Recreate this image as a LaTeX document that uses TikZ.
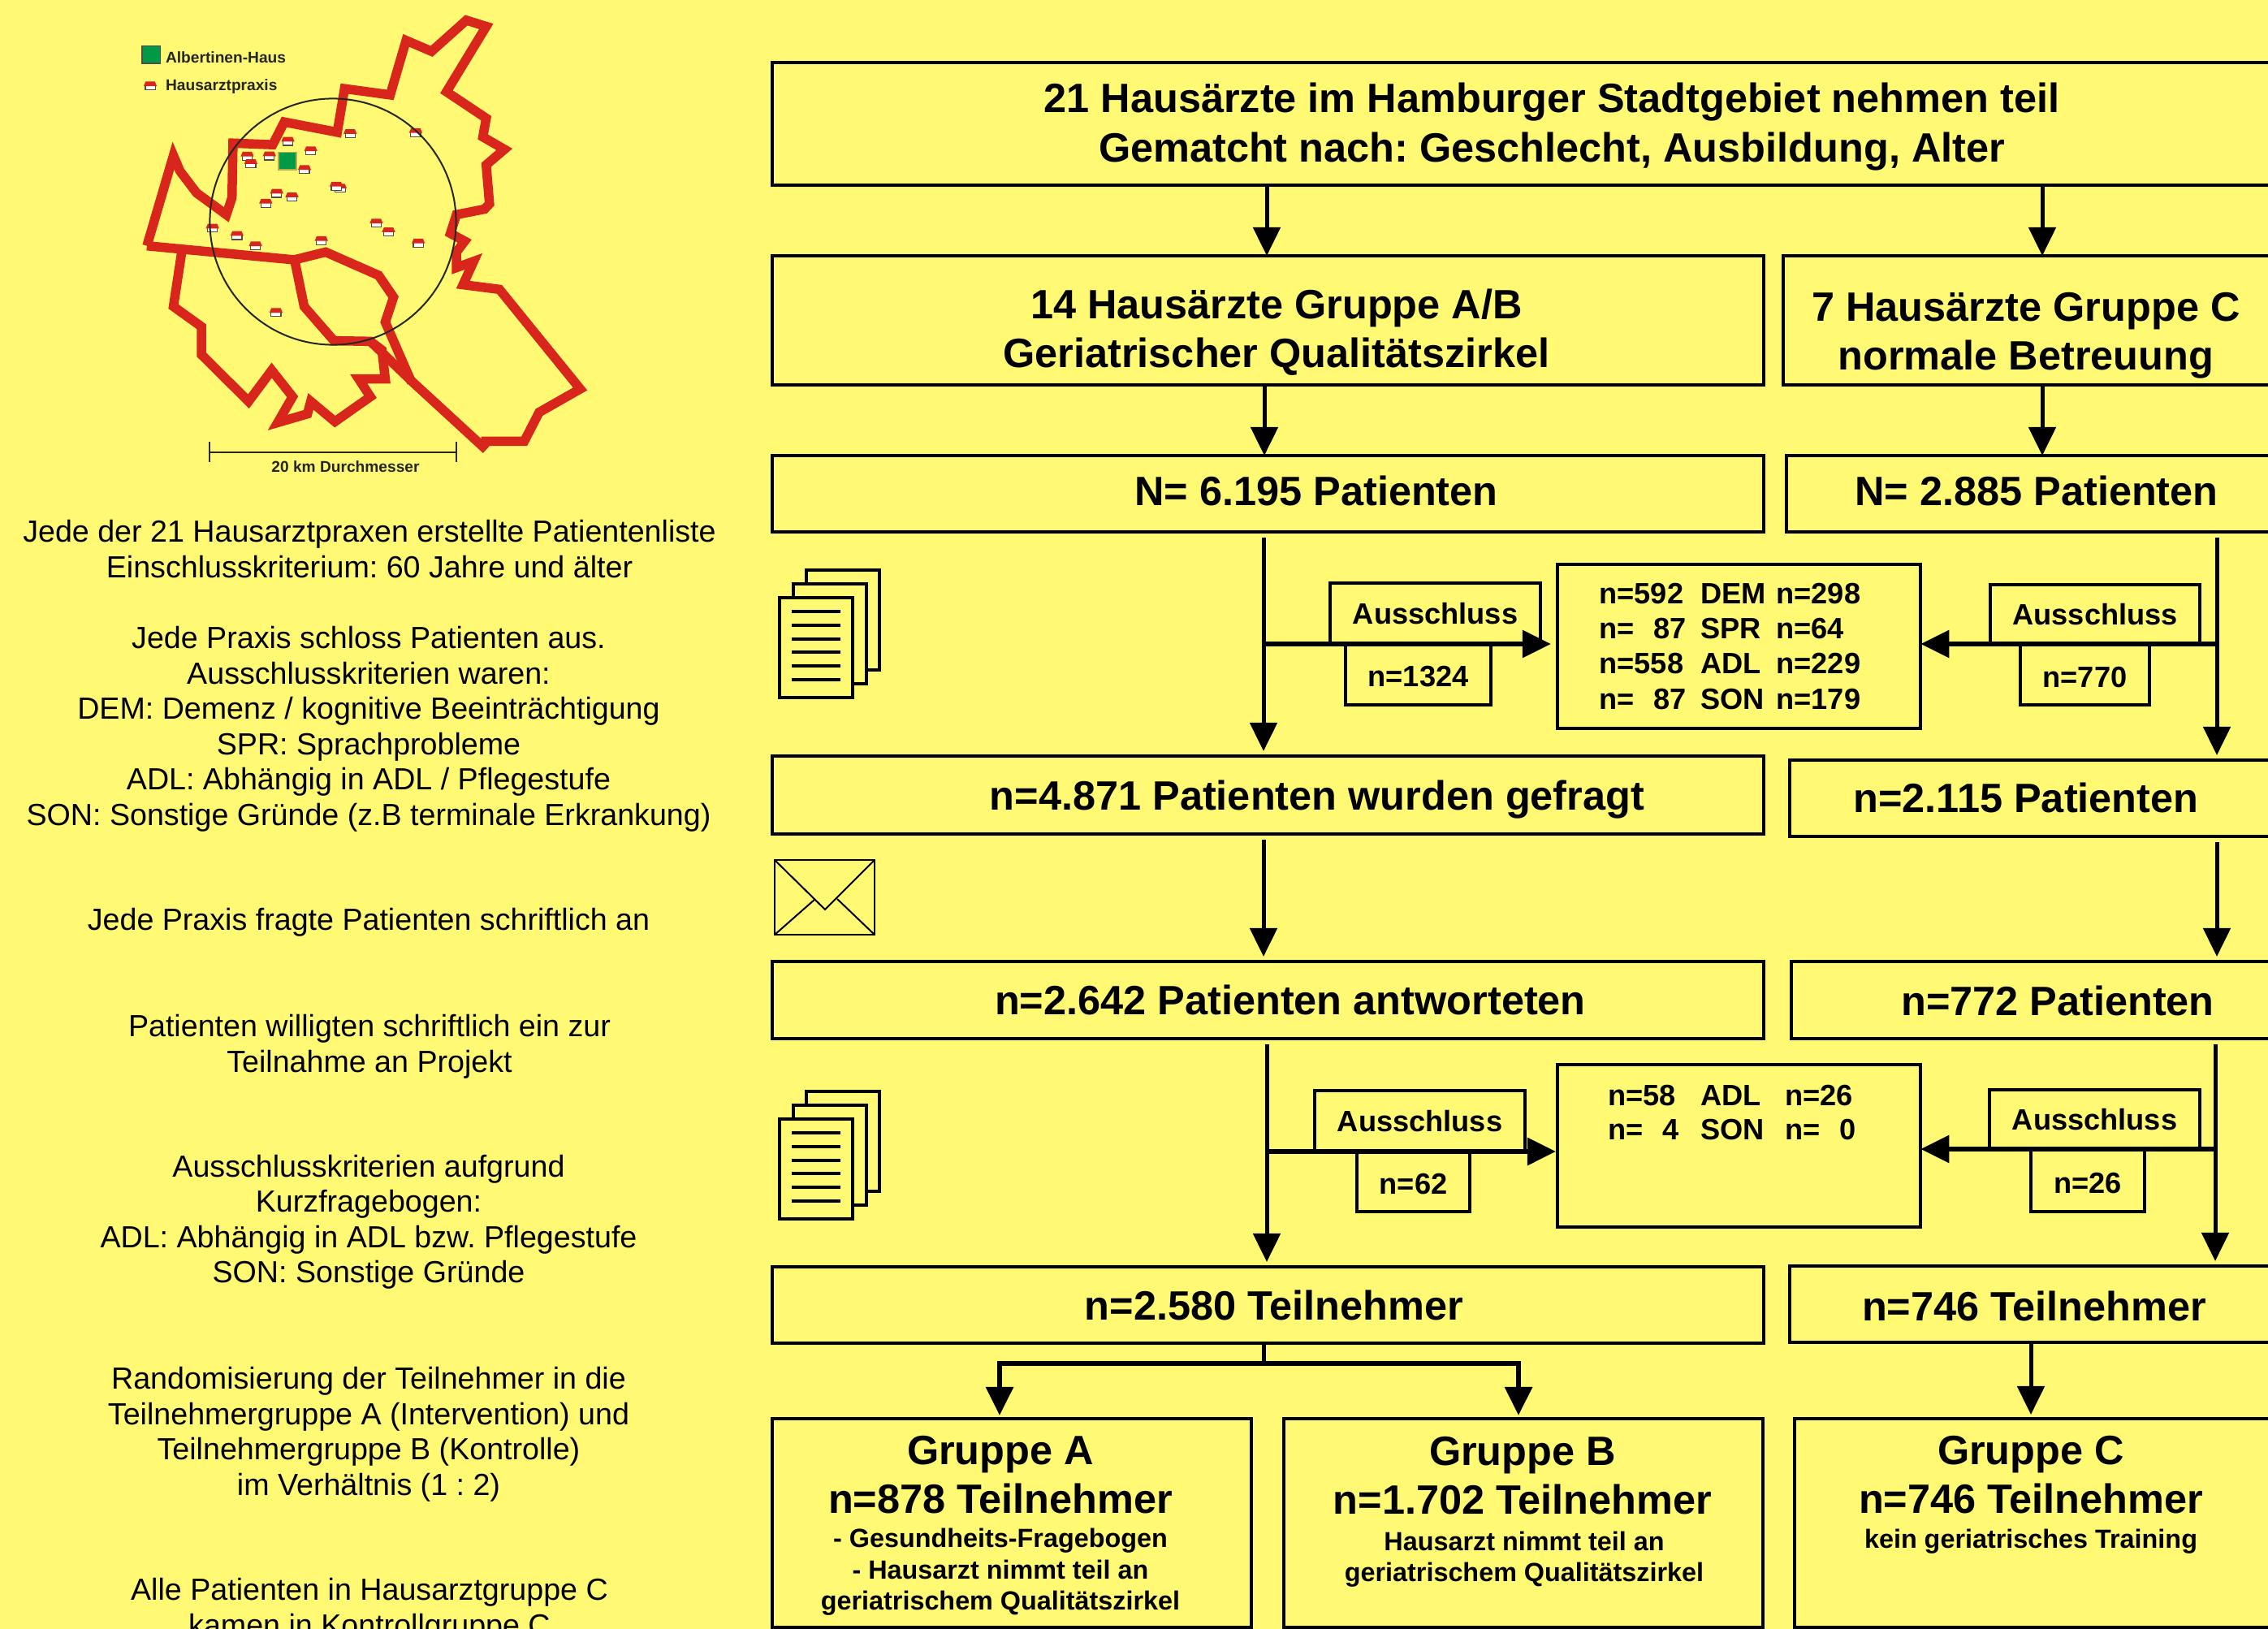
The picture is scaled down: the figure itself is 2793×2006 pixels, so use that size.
\documentclass[tikz,border=0pt]{standalone}
\usepackage{fontspec}
\setmainfont{Liberation Sans}
\usetikzlibrary{matrix,positioning,arrows.meta,calc}
\definecolor{poster}{HTML}{FFF974}
\definecolor{maproute}{HTML}{D9261C}
\definecolor{mapgreen}{HTML}{009A46}
\tikzset{
  flowbox/.style={draw=black,line width=0.04cm,inner sep=0pt,outer sep=0pt,anchor=north west},
  bigtext/.style={font=\frenchspacing\fontsize{14.35}{17.2}\selectfont\bfseries,align=center,inner sep=0pt},
  midtext/.style={font=\fontsize{10.3}{12.2}\selectfont\bfseries,align=center,inner sep=0pt},
  numtext/.style={midtext,text height=8.9pt},
  smalltext/.style={font=\fontsize{9.2}{10.9}\selectfont\bfseries,align=center,inner sep=0pt},
  sidetext/.style={font=\frenchspacing\fontsize{10.7}{12.37}\selectfont,align=center,inner sep=0pt},
  maptext/.style={font=\fontsize{5.45}{6.5}\selectfont\bfseries,text=black!85,inner sep=0pt},
  maproad/.style={maproute,line width=0.115cm,miter limit=6},
  flowarrow/.style={line width=0.05cm,-{Triangle[length=0.35cm,width=0.33cm]}},
  sidearrow/.style={flowarrow,line width=0.06cm},
  gaparrow/.style={flowarrow,shorten <=0.07cm,shorten >=0.06cm},
  praxis/.pic={
    \draw[fill=white,draw=black!70,line width=0.012cm] (-15,-2) rectangle (15,14);
    \fill[maproute] (-14,-13) -- (14,-13) -- (20,2) -- (-20,2) -- cycle;
  },
  paperstack/.pic={
    \foreach \dx/\dy in {33/-34,17/-17,0/0}
      \draw[fill=poster,line width=0.04cm] (\dx,\dy) rectangle ++(90,123);
    \foreach \ly in {17,34,51,67,84,101}
      \draw[line width=0.04cm] (15,\ly) -- ++(60,0);
  },
}
\begin{document}
\begin{tikzpicture}[x=0.01cm,y=-0.01cm]
  \useasboundingbox (0,0) rectangle (2793,2006);
  \fill[poster] (0,0) rectangle (2793,2006);
  \clip (0,0) rectangle (2793,2006);

  % map
  \begin{scope}[shift={(130,0)},x=0.00408cm,y=-0.003827cm]
    \draw[maproad]
      (125,790) -- (205,500) -- (225,550) -- (275,620) -- (365,690) -- (382,635) -- (385,460) -- (505,465)
      -- (540,392) -- (700,425) -- (722,285) -- (860,305) -- (908,130) -- (985,165) -- (1090,65) -- (1150,85)
      -- (1030,295) -- (1150,380) -- (1140,440) -- (1205,480) -- (1150,530) -- (1160,655) -- (1145,672)
      -- (1060,690) -- (1042,750) -- (1085,775) -- (1060,810) -- (1060,860) -- (1112,840) -- (1080,915)
      -- (1190,930) -- (1434,1250) -- (1310,1325) -- (1265,1418) -- (1135,1418);
    \draw[maproad]
      (1150,1445) -- (930,1230) -- (800,1097) -- (690,1095) -- (600,985) -- (572,840);
    \draw[maproad]
      (125,790) -- (570,835) -- (665,810) -- (825,885) -- (870,955) -- (845,1035) -- (925,1230);
    \draw[maproad]
      (230,810) -- (205,985) -- (290,1050) -- (290,1140) -- (432,1290) -- (502,1190) -- (565,1275) -- (520,1358)
      -- (610,1330) -- (620,1290) -- (693,1355) -- (800,1275) -- (765,1218) -- (845,1218) -- (835,1125) -- (800,1097);
    \foreach \hx/\hy in {739/428,937/425,551/453,620/484,428/501,495/500,439/525,601/544,709/604,697/597,
      517/620,563/632,484/652,323/732,397/756,453/789,652/772,818/716,855/744,945/780,515/1003,135/275}
      \pic at (\hx,\hy) {praxis};
    \draw[fill=mapgreen,draw=black!70,line width=0.015cm] (111,148) rectangle (165,204);
    \draw[fill=mapgreen,draw=black!30!poster,line width=0.015cm] (523,489) rectangle (577,546);
    \node[maptext,anchor=west] (lgdhaus) at (180,185) {Albertinen-Haus};
    \node[maptext,anchor=west] (lgdpraxis) at (180,277) {Hausarztpraxis};
    \coordinate (barL) at (314,1453);
    \coordinate (barR) at (1060,1453);
    \draw[line width=0.02cm,black!85] (barL) -- (barR);
    \draw[line width=0.02cm,black!85] ($(barL)+(0,-33)$) -- ($(barL)+(0,33)$);
    \draw[line width=0.02cm,black!85] ($(barR)+(0,-33)$) -- ($(barR)+(0,33)$);
    \node[maptext] (barlabel) at (725,1500) {20 km Durchmesser};
  \end{scope}
  \draw[line width=0.02cm,black!85] (410,273) circle (1.515cm);

  % left column
  \node[sidetext] (txtliste) at (455,676) {Jede der 21 Hausarztpraxen erstellte Patientenliste\\Einschlusskriterium: 60 Jahre und älter};
  \node[sidetext] (txtaus) at (454,898) {Jede Praxis schloss Patienten aus.\\Ausschlusskriterien waren:\\DEM: Demenz / kognitive Beeinträchtigung\\SPR: Sprachprobleme\\ADL: Abhängig in ADL / Pflegestufe\\SON: Sonstige Gründe (z.B terminale Erkrankung)};
  \node[sidetext] (txtfrage) at (454,1136) {Jede Praxis fragte Patienten schriftlich an};
  \node[sidetext] (txtein) at (455,1289) {Patienten willigten schriftlich ein zur\\Teilnahme an Projekt};
  \node[sidetext] (txtkurz) at (454,1505) {Ausschlusskriterien aufgrund\\Kurzfragebogen:\\ADL: Abhängig in ADL bzw. Pflegestufe\\SON: Sonstige Gründe};
  \node[sidetext] (txtrand) at (454,1766) {Randomisierung der Teilnehmer in die\\Teilnehmergruppe A (Intervention) und\\Teilnehmergruppe B (Kontrolle)\\im Verhältnis (1 : 2)};
  \node[sidetext] (txtalle) at (455,1983) {Alle Patienten in Hausarztgruppe C\\kamen in Kontrollgruppe C};

  % boxes
  \node[flowbox,minimum width=19.2cm,minimum height=1.51cm] (top) at (951,77) {};
  \node[flowbox,minimum width=12.2cm,minimum height=1.59cm] (grpab) at (951,315) {};
  \node[flowbox,minimum width=7cm,minimum height=1.59cm] (grpc) at (2196,315) {};
  \node[flowbox,minimum width=12.2cm,minimum height=0.94cm] (patA) at (951,561) {};
  \node[flowbox,minimum width=7cm,minimum height=0.94cm] (patC) at (2200,561) {};
  \node[flowbox,minimum width=12.2cm,minimum height=0.96cm] (askA) at (951,931) {};
  \node[flowbox,minimum width=7cm,minimum height=0.94cm] (askC) at (2204,936) {};
  \node[flowbox,minimum width=12.2cm,minimum height=0.95cm] (ansA) at (951,1184) {};
  \node[flowbox,minimum width=7cm,minimum height=0.95cm] (ansC) at (2206,1184) {};
  \node[flowbox,minimum width=12.2cm,minimum height=0.94cm] (telA) at (951,1560) {};
  \node[flowbox,minimum width=7cm,minimum height=0.94cm] (telC) at (2204,1559) {};
  \node[flowbox,minimum width=5.9cm,minimum height=2.57cm] (endA) at (951,1747) {};
  \node[flowbox,minimum width=5.9cm,minimum height=2.57cm] (endB) at (1581,1747) {};
  \node[flowbox,minimum width=7cm,minimum height=2.57cm] (endC) at (2210,1747) {};

  % box texts
  \node[bigtext] (ttop) at (1911,156) {21 Hausärzte im Hamburger Stadtgebiet nehmen teil\\Gematcht nach: Geschlecht, Ausbildung, Alter};
  \node[bigtext] (tgrpab) at (1572,409) {14 Hausärzte Gruppe A/B\\Geriatrischer Qualitätszirkel};
  \node[bigtext] (tgrpc) at (2495,413) {7 Hausärzte Gruppe C\\normale Betreuung};
  \node[bigtext] (tpatA) at (1621,604) {N= 6.195 Patienten};
  \node[bigtext] (tpatC) at (2508,604) {N= 2.885 Patienten};
  \node[bigtext] (taskA) at (1622,985) {n=4.871 Patienten wurden gefragt};
  \node[bigtext] (taskC) at (2495,982) {n=2.115 Patienten};
  \node[bigtext] (tansA) at (1589,1231) {n=2.642 Patienten antworteten};
  \node[bigtext] (tansC) at (2534,1232) {n=772 Patienten};
  \node[bigtext] (ttelA) at (1569,1607) {n=2.580 Teilnehmer};
  \node[bigtext] (ttelC) at (2505,1608) {n=746 Teilnehmer};
  \node[bigtext] (tendA) at (1232,1816) {Gruppe A\\n=878 Teilnehmer};
  \node[smalltext] (dendA) at (1232,1936) {- Gesundheits-Fragebogen\\- Hausarzt nimmt teil an\\geriatrischem Qualitätszirkel};
  \node[bigtext] (tendB) at (1875,1817) {Gruppe B\\n=1.702 Teilnehmer};
  \node[smalltext] (dendB) at (1877,1920) {Hausarzt nimmt teil an\\geriatrischem Qualitätszirkel};
  \node[bigtext] (tendC) at (2501,1816) {Gruppe C\\n=746 Teilnehmer};
  \node[smalltext] (dendC) at (2501,1898) {kein geriatrisches Training};

  % exclusion boxes
  \node[flowbox,midtext,minimum width=2.59cm,minimum height=0.75cm] (ausA) at (1638,718) {Ausschluss};
  \node[flowbox,numtext,minimum width=1.79cm,minimum height=0.75cm] (numA) at (1657,793) {n=1324};
  \node[flowbox,minimum width=4.47cm,minimum height=2.02cm] (excl) at (1918,695) {};
  \node[flowbox,midtext,minimum width=2.58cm,minimum height=0.73cm] (ausC) at (2451,720) {Ausschluss};
  \node[flowbox,numtext,minimum width=1.59cm,minimum height=0.75cm] (numC) at (2488,793) {n=770};
  \node[flowbox,midtext,minimum width=2.59cm,minimum height=0.75cm] (ausAb) at (1619,1343) {Ausschluss};
  \node[flowbox,numtext,minimum width=1.39cm,minimum height=0.74cm] (numAb) at (1671,1418) {n=62};
  \node[flowbox,minimum width=4.47cm,minimum height=2cm] (exclb) at (1918,1311) {};
  \node[flowbox,midtext,minimum width=2.59cm,minimum height=0.74cm] (ausCb) at (2450,1342) {Ausschluss};
  \node[flowbox,numtext,minimum width=1.4cm,minimum height=0.76cm] (numCb) at (2501,1416) {n=26};

  \matrix(reasons) [matrix of nodes, anchor=west, row sep=0pt, column sep=0pt,
    nodes={font=\fontsize{10.3}{12.2}\selectfont\bfseries,inner sep=0pt,minimum height=0.43cm,anchor=west},
    column 1/.style={nodes={text width=1.25cm}}, column 2/.style={nodes={text width=0.93cm}}, column 3/.style={nodes={text width=1.2cm}}]
    at (1957,796) {
    n=592 & DEM & n=298 \\
    n=\ \ 87 & SPR & n=64 \\
    n=558 & ADL & n=229 \\
    n=\ \ 87 & SON & n=179 \\
  };
  \matrix(reasonsb) [matrix of nodes, anchor=west, row sep=0pt, column sep=0pt,
    nodes={font=\fontsize{10.3}{12.2}\selectfont\bfseries,inner sep=0pt,minimum height=0.42cm,anchor=west},
    column 1/.style={nodes={text width=1.14cm}}, column 2/.style={nodes={text width=1.04cm}}, column 3/.style={nodes={text width=1.2cm}}]
    at (1968,1370) {
    n=58 & ADL & n=26 \\
    n=\ \ 4 & SON & n=\ \ 0 \\
  };

  % paper stacks and envelope
  \pic at (960,736) {paperstack};
  \pic at (960,1378) {paperstack};
  \draw[line width=0.025cm] (954,1059) rectangle (1077,1151);
  \draw[line width=0.02cm] (954,1059) -- (1016,1120) -- (1077,1059);
  \draw[line width=0.02cm] (954,1151) -- (1004,1107);
  \draw[line width=0.02cm] (1077,1151) -- (1031,1107);

  % connectors
  \coordinate (colTA) at (1560,0);
  \coordinate (colTC) at (2515,0);
  \coordinate (colNA) at (1557,0);
  \coordinate (colQA) at (1556,0);
  \coordinate (colRA) at (1560,0);
  \coordinate (colQC) at (2730,0);
  \coordinate (colRC) at (2728,0);
  \coordinate (colEC) at (2501,0);
  \coordinate (colEA) at (1231,0);
  \coordinate (colEB) at (1870,0);
  \draw[flowarrow] (top.south -| colTA) -- (grpab.north -| colTA);
  \draw[flowarrow] (top.south -| colTC) -- (grpc.north -| colTC);
  \draw[flowarrow] (grpab.south -| colNA) -- (patA.north -| colNA);
  \draw[flowarrow] (grpc.south -| colTC) -- (patC.north -| colTC);
  \draw[gaparrow] (patA.south -| colQA) -- (askA.north -| colQA);
  \draw[gaparrow] (patC.south -| colQC) -- (askC.north -| colQC);
  \draw[gaparrow] (askA.south -| colQA) -- (ansA.north -| colQA);
  \draw[gaparrow] (askC.south -| colQC) -- (ansC.north -| colQC);
  \draw[gaparrow] (ansA.south -| colRA) -- (telA.north -| colRA);
  \draw[gaparrow] (ansC.south -| colRC) -- (telC.north -| colRC);

  \coordinate (splitA) at (1556,793);
  \coordinate (splitC) at (2730,793);
  \coordinate (splitAb) at (1560,1418);
  \coordinate (splitCb) at (2728,1415);
  \draw[sidearrow,shorten >=0.08cm] (splitA) -- (splitA -| excl.west);
  \draw[sidearrow] (splitC) -- (splitC -| excl.east);
  \draw[sidearrow,shorten >=0.02cm] (splitAb) -- (splitAb -| exclb.west);
  \draw[sidearrow] (splitCb) -- (splitCb -| exclb.east);

  \coordinate (forkM) at (1556,1679);
  \draw[line width=0.05cm] (telA.south -| forkM) -- (forkM);
  \draw[sidearrow,shorten >=0.04cm] (forkM) -| (endA.north -| colEA);
  \draw[sidearrow,shorten >=0.04cm] (forkM) -| (endB.north -| colEB);
  \draw[flowarrow,shorten >=0.05cm] (telC.south -| colEC) -- (endC.north -| colEC);
\end{tikzpicture}
\end{document}
